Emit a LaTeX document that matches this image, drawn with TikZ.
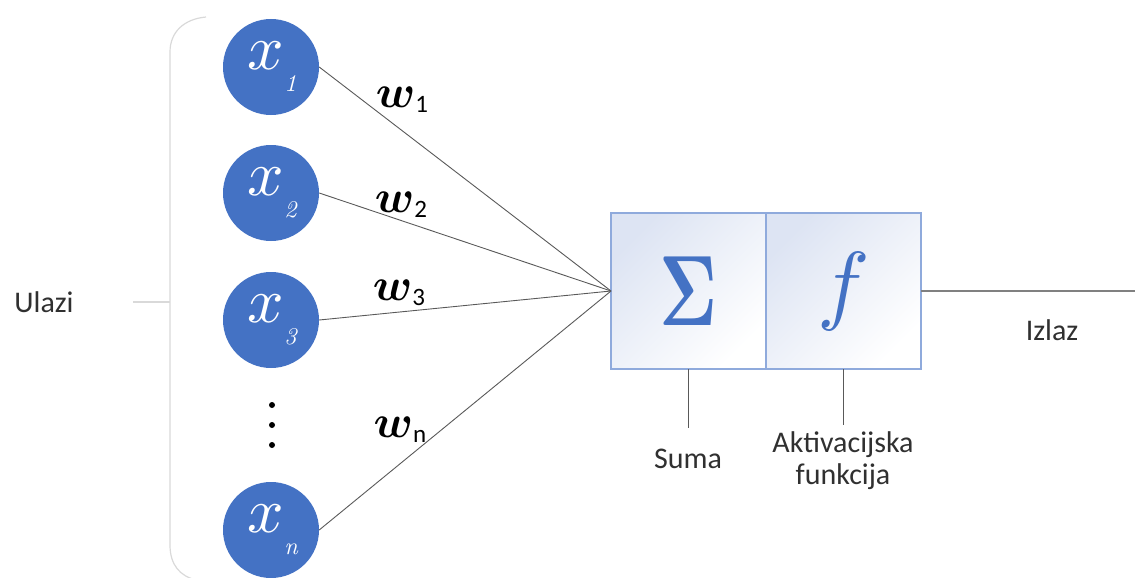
\documentclass[tikz,border=0pt]{standalone}
\usepackage[no-math]{fontspec}
\setmainfont{Carlito}
\usetikzlibrary{positioning}
\definecolor{nodeblue}{HTML}{4472C4}
\definecolor{boxline}{HTML}{8FAADC}
\definecolor{boxfill}{HTML}{DDE4F3}
\definecolor{wiregray}{HTML}{595959}
\definecolor{bracketgray}{HTML}{D9D9D9}
\definecolor{txtgray}{HTML}{303030}
\newcommand{\inx}[1]{\rule[-8pt]{0pt}{8pt}\scalebox{6.4}{$x$}\makebox[10pt][l]{\raisebox{-22pt}{\smash{\scalebox{2.4}{$\mathit{#1}$}}}}}
\newcommand{\wlab}[1]{\scalebox{4.6}{\boldmath$w$}\raisebox{-5pt}{\fontsize{25}{25}\selectfont #1}}

\begin{document}
\begin{tikzpicture}[x=1pt,y=-1pt,
  inp/.style={circle,fill=nodeblue,text=white,minimum size=96pt,inner sep=0pt},
  wire/.style={wiregray,line width=0.9pt},
  outwire/.style={gray,line width=1.5pt},
  wlabel/.style={text=black,inner sep=0pt},
  unit/.style={draw=boxline,line width=1.2pt,minimum width=155pt,minimum height=156pt,inner sep=0pt,outer sep=0pt,top color=boxfill,bottom color=white,shading angle=45,text=nodeblue},
  lbl/.style={text=txtgray,font=\fontsize{30}{32}\selectfont,align=center},
  bracketline/.style={bracketgray,line width=1.2pt}]
\useasboundingbox (0,0) rectangle (1135,578);

\node[inp] (x1) at (271,67) {\inx{1}};
\node[inp] (x2) at (271,193) {\inx{2}};
\node[inp] (x3) at (271,320) {\inx{3}};
\node[inp] (xn) at (271,530) {\inx{n}};
\foreach \y in {405,425,445}
  \fill (272,\y) circle (3pt);

\node[unit] (sum) at (688.5,291) {\scalebox{7}[10]{\boldmath$\Sigma$}};
\node[unit,right=0pt of sum] (act) {\scalebox{8.8}{$f$}};

\foreach \i in {x1,x2,x3,xn}
  \draw[wire] (\i.east) -- (sum.west);

\node[wlabel] (w1) at (402,100) {\wlab{1}};
\node[wlabel] (w2) at (401,205) {\wlab{2}};
\node[wlabel] (w3) at (399,293) {\wlab{3}};
\node[wlabel] (wn) at (400,430) {\wlab{n}};

\coordinate (out) at (1135,291);
\draw[outwire] (act.east) -- (out);

\node[lbl] (izlaz) at (1052,330) {Izlaz};
\node[lbl] (ulazi) at (44,302) {Ulazi};
\node[lbl] (suma) at (688,459) {Suma};
\node[lbl] (aktiv) at (843,461) {Aktivacijska\\funkcija};

\coordinate (sumtick) at (688.5,428);
\coordinate (acttick) at (843.5,425);
\draw[wire] (sum.south) -- (sumtick);
\draw[wire] (act.south) -- (acttick);

\draw[bracketline] (206,17) .. controls (184,19) and (170,32) .. (170,52) -- (170,545) .. controls (170,565) and (180,576) .. (196,580);
\draw[bracketline] (133,302) -- (170,302);
\end{tikzpicture}
\end{document}
